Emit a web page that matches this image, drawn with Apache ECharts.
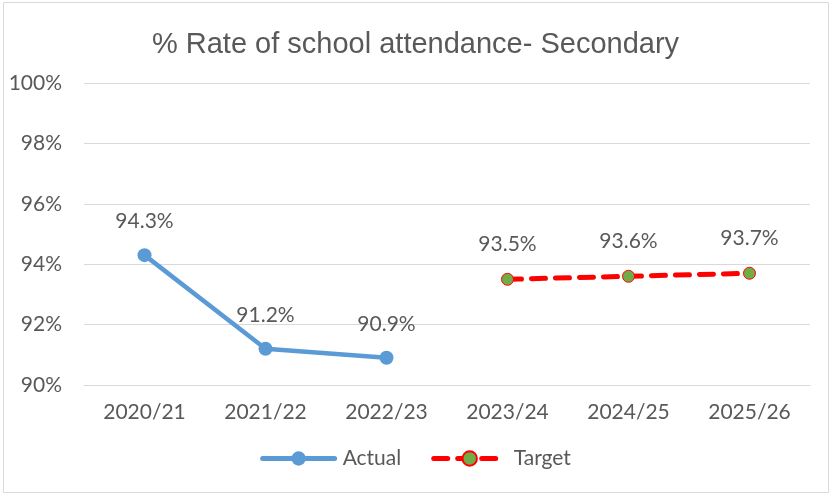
<!DOCTYPE html>
<html><head><meta charset="utf-8">
<script src="https://cdn.jsdelivr.net/npm/echarts@6/dist/echarts.min.js"></script>
<style>html,body{margin:0;padding:0;background:#fff}#c{width:831px;height:494px}</style>
</head><body><div id="c"></div>
<script>
const categories = ['2020/21','2021/22','2022/23','2023/24','2024/25','2025/26'];
const actual = [94.3, 91.2, 90.9, null, null, null];
const target = [null, null, null, 93.5, 93.6, 93.7];
const yTicks = [90, 92, 94, 96, 98, 100];
const titleText = '% Rate of school attendance- Secondary';

const chart = echarts.init(document.getElementById('c'));
const txt = '#595959';
const f = 'Lato, "Open Sans", sans-serif';
chart.setOption({
  animation: false,
  graphic: [{type:'rect', shape:{x:3.5,y:2.5,width:825,height:490}, style:{fill:'none', stroke:'#d9d9d9', lineWidth:1}}],
  title: {text: titleText, left: 'center', top: 25, textStyle:{fontFamily:'"Liberation Sans", Arial, sans-serif', fontWeight:'normal', fontSize:29, color:txt}},
  grid: {left:84, right:21, top:83, bottom:109},
  legend: {
    bottom: 20, left: 'center', itemWidth: 72, itemHeight: 18, itemGap: 30,
    textStyle:{fontFamily:f, fontSize:21, color:txt, padding:[0,0,0,3]},
    data: [
      {name:'Actual', lineStyle:{width:5, cap:'round'}},
      {name:'Target', lineStyle:{width:5, cap:'round'}}
    ]
  },
  xAxis: {
    type:'category', data: categories, boundaryGap:true,
    axisLine:{lineStyle:{color:'#d9d9d9', width:1}}, axisTick:{show:false},
    axisLabel:{fontFamily:f, fontSize:21, color:txt, margin:17}
  },
  yAxis: {
    type:'value', min: yTicks[0], max: yTicks[yTicks.length-1], interval: 2,
    axisLine:{show:false}, axisTick:{show:false},
    splitLine:{lineStyle:{color:'#d9d9d9', width:1}},
    axisLabel:{fontFamily:f, fontSize:21, color:txt, margin:22, formatter:'{value}%'}
  },
  series: [
    {name:'Actual', type:'line', data: actual, symbol:'circle', symbolSize:14,
     lineStyle:{color:'#5B9BD5', width:4.5, cap:'round'}, itemStyle:{color:'#5B9BD5'},
     label:{show:true, position:'top', distance:16, fontFamily:f, fontSize:21, color:txt, formatter: p => p.value.toFixed(1)+'%'}},
    {name:'Target', type:'line', data: target, symbol:'circle', symbolSize:12,
     lineStyle:{color:'#FF0000', width:5, type:[14,10], cap:'round'}, itemStyle:{color:'#70AD47', borderColor:'#FF0000', borderWidth:1},
     label:{show:true, position:'top', distance:18, fontFamily:f, fontSize:21, color:txt, formatter: p => p.value.toFixed(1)+'%'}}
  ]
});
</script></body></html>
